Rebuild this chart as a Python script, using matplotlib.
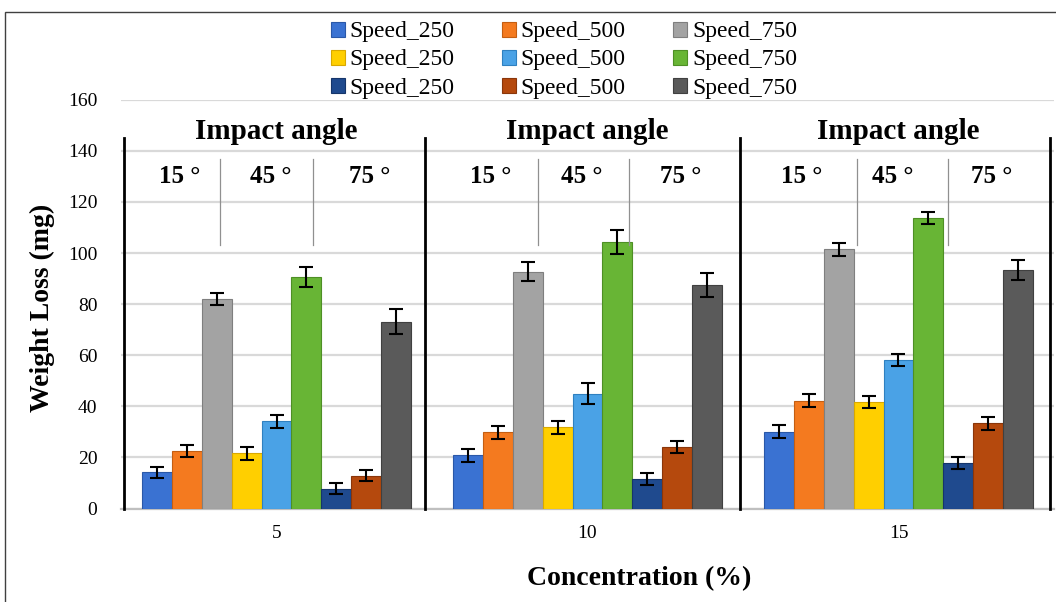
import matplotlib
matplotlib.use("Agg")
import matplotlib.pyplot as plt
import numpy as np
from matplotlib.patches import Rectangle

plt.rcParams["font.family"] = ["Liberation Serif", "DejaVu Serif"]

# concentrations on the x axis
concentrations = ["5", "10", "15"]

# weight loss (mg) per series, one value per concentration
a15_s250 = [14.2, 20.8, 30.1]
a15_s500 = [22.5, 29.8, 42.2]
a15_s750 = [82.0, 92.7, 101.4]
a45_s250 = [21.6, 31.8, 41.7]
a45_s500 = [34.1, 44.9, 58.0]
a45_s750 = [90.6, 104.3, 113.7]
a75_s250 = [7.8, 11.5, 17.8]
a75_s500 = [12.8, 24.1, 33.3]
a75_s750 = [73.1, 87.5, 93.3]

# error bars (+/-)
e15_s250 = [2.2, 2.5, 2.4]
e15_s500 = [2.4, 2.4, 2.5]
e15_s750 = [2.3, 3.8, 2.4]
e45_s250 = [2.5, 2.5, 2.3]
e45_s500 = [2.4, 4.1, 2.3]
e45_s750 = [3.9, 4.7, 2.5]
e75_s250 = [2.3, 2.4, 2.3]
e75_s500 = [2.2, 2.5, 2.4]
e75_s750 = [4.9, 4.7, 3.8]

series_labels = ["Speed_250", "Speed_500", "Speed_750"] * 3
angle_labels = ["15 °", "45 °", "75 °"]

means = [a15_s250, a15_s500, a15_s750, a45_s250, a45_s500, a45_s750,
         a75_s250, a75_s500, a75_s750]
errs = [e15_s250, e15_s500, e15_s750, e45_s250, e45_s500, e45_s750,
        e75_s250, e75_s500, e75_s750]
colors = ["#3a72d2", "#f47a1f", "#a3a3a3", "#ffcf00", "#4aa2e6", "#68b535",
          "#1f4a8e", "#b5490d", "#5a5a5a"]
edges = ["#2a58a8", "#c45e12", "#7f7f7f", "#d9a800", "#2f80c0", "#4e8f25",
         "#15356a", "#8a360a", "#404040"]

fig = plt.figure(figsize=(10.56, 6.02), dpi=100)
ax = fig.add_axes([0.1146, 0.1553, 0.8835, 0.679])

x = np.arange(len(concentrations))
width = 0.0958
bars = []
for i, (m, e) in enumerate(zip(means, errs)):
    b = ax.bar(x + (i - 4) * width, m, width, color=colors[i], edgecolor=edges[i],
               linewidth=0.8, yerr=e, capsize=5,
               error_kw=dict(ecolor="black", elinewidth=1.5, capthick=1.5),
               zorder=3, label=series_labels[i])
    bars.append(b)

ax.set_xlim(-0.5, 2.5)
ax.set_ylim(0, 160)
ax.set_yticks(np.arange(0, 161, 20))
ax.set_xticks(x)
ax.set_xticklabels(concentrations)
ax.tick_params(axis="both", length=0, labelsize=14)
ax.tick_params(axis="x", pad=12)
ax.tick_params(axis="y", pad=17)
ax.yaxis.grid(True, color="#d9d9d9", linewidth=1.6, zorder=0)
ax.set_axisbelow(True)
for s in ["top", "right", "left"]:
    ax.spines[s].set_visible(False)
ax.spines["bottom"].set_color("#bfbfbf")
ax.spines["bottom"].set_linewidth(1.6)

ax.set_ylabel("Weight Loss (mg)", fontsize=20, fontweight="bold")
ax.yaxis.set_label_coords(-0.071, 0.49)
ax.set_xlabel("Concentration (%)", fontsize=20, fontweight="bold")
ax.xaxis.set_label_coords(0.555, -0.14)

# group separators and angle annotations
for sep in [-0.49, 0.477, 1.49, 2.487]:
    ax.plot([sep, sep], [0, 145], color="black", linewidth=2, zorder=4, clip_on=False)
thin_lines = [[-0.182, 0.117], [0.841, 1.133], [1.867, 2.159]]
for pair in thin_lines:
    for t in pair:
        ax.plot([t, t], [103, 137], color="#909090", linewidth=0.9, zorder=4)
for g in x:
    ax.text(g, 147.5, "Impact angle", ha="center", va="center", fontsize=21,
            fontweight="bold", zorder=5)
    for off, lab in zip([-0.31, -0.02, 0.30], angle_labels):
        ax.text(g + off, 130, lab, ha="center", va="center", fontsize=18,
                fontweight="bold", zorder=5)

# legend, filled column-wise so rows read blue/orange/gray etc.
order = [0, 3, 6, 1, 4, 7, 2, 5, 8]
fig.legend([bars[i] for i in order], [series_labels[i] for i in order],
           loc="upper center", bbox_to_anchor=(0.534, 0.99), ncol=3,
           frameon=False, fontsize=17, handlelength=0.6, handleheight=0.6,
           handletextpad=0.2, columnspacing=2.0, labelspacing=0.3,
           borderpad=0.15)

fig.add_artist(Rectangle((5 / 1056, -0.05), 1.2, 1 - 12 / 602 + 0.05,
                         transform=fig.transFigure, fill=False,
                         edgecolor="#404040", linewidth=1))

plt.savefig("out.png", dpi=100)
plt.close()
